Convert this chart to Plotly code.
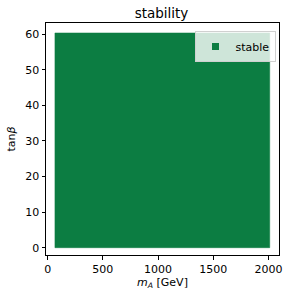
import plotly.graph_objects as go

# scanned parameter region that is stable
mA_bounds = [66, 2012]      # m_A [GeV]
tanb_bounds = [0, 60.3]     # tan beta
series_name = "stable"
x_ticks = [0, 500, 1000, 1500, 2000]
y_ticks = [0, 10, 20, 30, 40, 50, 60]

green = "#0c7d42"

xs = [mA_bounds[0], mA_bounds[1], mA_bounds[1], mA_bounds[0], mA_bounds[0]]
ys = [tanb_bounds[0], tanb_bounds[0], tanb_bounds[1], tanb_bounds[1], tanb_bounds[0]]

fig = go.Figure()
fig.add_trace(go.Scatter(x=xs, y=ys, mode="lines", fill="toself",
                         fillcolor=green, line=dict(color=green, width=0.5),
                         showlegend=False, hoverinfo="skip"))
fig.add_trace(go.Scatter(x=[None], y=[None], mode="markers", name=series_name,
                         marker=dict(symbol="square", size=7, color=green)))

font = "DejaVu Sans"
fig.update_layout(
    width=291, height=298,
    margin=dict(l=46, r=12, t=23, b=43, autoexpand=False),
    paper_bgcolor="white", plot_bgcolor="white",
    font=dict(family=font, size=11, color="black"),
    title=dict(text="stability", x=0.555, xanchor="center", y=1 - 13.5 / 298, yanchor="middle",
               automargin=False,
               font=dict(family=font, size=13.5, color="black")),
    legend=dict(x=0.985, y=0.966, xanchor="right", yanchor="top",
                bgcolor="rgba(255,255,255,0.8)", bordercolor="#d0d0d0", borderwidth=1,
                font=dict(family=font, size=11), itemwidth=30,
                tracegroupgap=0),
    xaxis=dict(range=[-15, 2096], tickvals=x_ticks, ticks="outside", ticklen=3.5,
               tickcolor="black", showline=True, linecolor="black", linewidth=1,
               mirror=True, showgrid=False, zeroline=False, automargin=False,
               title=dict(text="<i>m</i><sub><i>A</i></sub> [GeV]", standoff=3,
                          font=dict(family=font, size=11))),
    yaxis=dict(range=[-2.05, 63.1], tickvals=y_ticks, ticks="outside", ticklen=3.5,
               tickcolor="black", showline=True, linecolor="black", linewidth=1,
               mirror=True, showgrid=False, zeroline=False, automargin=False,
               title=dict(text="tan<i>β</i>", standoff=7,
                          font=dict(family=font, size=11))),
)

fig.write_html("out.html",
               config={"displayModeBar": False},
               post_script="document.body.style.margin='0';document.body.style.overflow='hidden';")
